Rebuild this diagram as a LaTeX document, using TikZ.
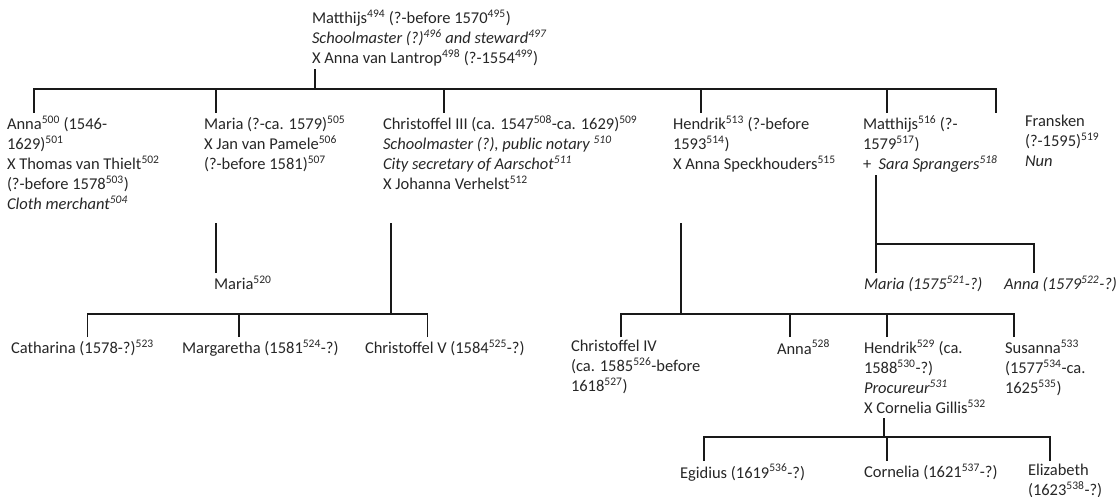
\documentclass[tikz,border=0pt]{standalone}
\usepackage{fontspec}
\setmainfont{Carlito}
\usetikzlibrary{positioning}
\newcommand{\ftn}[1]{\textsuperscript{#1}}

\begin{document}
\begin{tikzpicture}[x=1pt, y=-1pt,
		every node/.style={anchor=north west, align=left, inner sep=0pt, outer xsep=0pt, outer ysep=3pt,
			font=\fontsize{16.5}{20}\selectfont, text=black!85},
		tree/.style={draw=black!90, line width=1.8pt}]
		\useasboundingbox (0,0) rectangle (1118,496);
		% Nodes
		\node (top) at (312,7) {Matthijs\ftn{494} (?-before 1570\ftn{495})\\\textit{Schoolmaster (?)\ftn{496} and steward\ftn{497}}\\X Anna van Lantrop\ftn{498} (?-1554\ftn{499})};
		\node (anna) at (7,112.5) {Anna\ftn{500} (1546-\\1629)\ftn{501}\\X Thomas van Thielt\ftn{502}\\(?-before 1578\ftn{503})\\\textit{Cloth merchant\ftn{504}}};
		\node (maria) at (204,112.5) {Maria (?-ca. 1579)\ftn{505}\\X Jan van Pamele\ftn{506}\\(?-before 1581)\ftn{507}};
		\node (chrIII) at (383,112.5) {Christoffel III (ca. 1547\ftn{508}-ca. 1629)\ftn{509}\\\textit{Schoolmaster (?), public notary \ftn{510}}\\\textit{City secretary of Aarschot\ftn{511}}\\X Johanna Verhelst\ftn{512}};
		\node (hendrik) at (673,112.5) {Hendrik\ftn{513} (?-before\\1593\ftn{514})\\X Anna Speckhouders\ftn{515}};
		\node (matthijsB) at (863,112.5) {Matthijs\ftn{516} (?-\\1579\ftn{517})\\+\ \ \textit{Sara Sprangers\ftn{518}}};
		\node (fransken) at (1025,112.5) {Fransken\\(?-1595)\ftn{519}\\\textit{Nun}};
		\node (mariaB) at (214,273) {Maria\ftn{520}};
		\node (mariaC) at (864,273) {\textit{Maria (1575\ftn{521}-?)}};
		\node (annaC) at (1004,273) {\textit{Anna (1579\ftn{522}-?)}};
		\node (catharina) at (11,337) {Catharina (1578-?)\ftn{523}};
		\node (margaretha) at (182,337) {Margaretha (1581\ftn{524}-?)};
		\node (chrV) at (365,337) {Christoffel V (1584\ftn{525}-?)};
		\node (chrIV) at (571,337) {Christoffel IV\\(ca. 1585\ftn{526}-before\\1618\ftn{527})};
		\node (annaB) at (777,337) {Anna\ftn{528}};
		\node (hendrikB) at (864,337) {Hendrik\ftn{529} (ca.\\1588\ftn{530}-?)\\\textit{Procureur\ftn{531}}\\X Cornelia Gillis\ftn{532}};
		\node (susanna) at (1005,337) {Susanna\ftn{533}\\(1577\ftn{534}-ca.\\1625\ftn{535})};
		\node (egidius) at (680,461) {Egidius (1619\ftn{536}-?)};
		\node (cornelia) at (864,461) {Cornelia (1621\ftn{537}-?)};
		\node (elizabeth) at (1028,461) {Elizabeth\\(1623\ftn{538}-?)};
		% Junctions
		\coordinate (j0) at (315,89);
		\coordinate (j1) at (216,223);
		\coordinate (j2) at (391,223);
		\coordinate (j2b) at (391,314);
		\coordinate (j3) at (681,223);
		\coordinate (j3b) at (681,314);
		\coordinate (j4) at (876,175);
		\coordinate (j4b) at (876,244);
		\coordinate (j5) at (884,418);
		\coordinate (j5b) at (884,437);
		% Edges
		\draw[tree] (top.south -| j0) -- (j0);
		\foreach \n/\x in {anna/34, maria/216, chrIII/444, hendrik/701, matthijsB/887, fransken/996}
			\draw[tree] (\x,0 |- \n.north) |- (j0);
		\draw[tree] (j1) -- (j1 |- mariaB.north);
		\draw[tree] (j2) -- (j2b);
		\foreach \n/\x in {catharina/87.5, margaretha/239, chrV/427.5}
			\draw[tree] (\x,0 |- \n.north) |- (j2b);
		\draw[tree] (j3) -- (j3b);
		\foreach \n/\x in {chrIV/621, annaB/790, hendrikB/887, susanna/1014}
			\draw[tree] (\x,0 |- \n.north) |- (j3b);
		\draw[tree] (j4) -- (j4 |- mariaC.north);
		\draw[tree] (j4b) -| (1034,0 |- annaC.north);
		\draw[tree] (j5) -- (j5b);
		\foreach \n/\x in {egidius/704, cornelia/887, elizabeth/1050}
			\draw[tree] (\x,0 |- \n.north) |- (j5b);
	\end{tikzpicture}
\end{document}
